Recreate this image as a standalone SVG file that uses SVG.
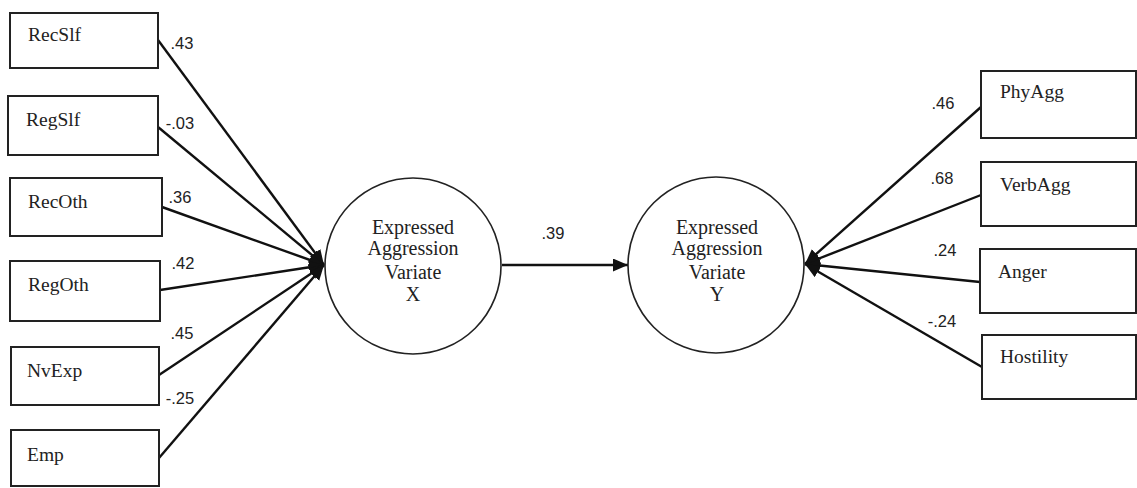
<svg xmlns="http://www.w3.org/2000/svg" width="1137" height="488" viewBox="0 0 1137 488">
<style>
.box{fill:#fff;stroke:#222;stroke-width:2}
.circ{fill:#fff;stroke:#222;stroke-width:1.6}
.lbl{font-family:"Liberation Serif","Times New Roman",serif;font-size:19.5px;fill:#222}
.ctr{font-family:"Liberation Serif","Times New Roman",serif;font-size:20px;fill:#222;text-anchor:middle}
.num{font-family:"Liberation Sans",Arial,sans-serif;font-size:16.5px;fill:#222;text-anchor:middle}
.edge{stroke:#111;stroke-width:2.4;fill:none;marker-end:url(#ah)}
</style>
<defs>
<marker id="ah" markerUnits="userSpaceOnUse" markerWidth="16" markerHeight="14" refX="15" refY="6.5" orient="auto">
<path d="M0,0 L15,6.5 L0,13 z" fill="#111"/>
</marker>
</defs>
<g id="connectors">
<line class="edge" x1="158" y1="40" x2="324" y2="265"/>
<line class="edge" x1="158" y1="127" x2="324" y2="265"/>
<line class="edge" x1="162" y1="207" x2="324" y2="265"/>
<line class="edge" x1="160" y1="290" x2="324" y2="265"/>
<line class="edge" x1="159" y1="375" x2="324" y2="265"/>
<line class="edge" x1="159" y1="458" x2="324" y2="265"/>
<line class="edge" x1="502" y1="265" x2="628" y2="265"/>
<line class="edge" x1="981" y1="107" x2="805" y2="264"/>
<line class="edge" x1="981" y1="195" x2="805" y2="264"/>
<line class="edge" x1="980" y1="282" x2="805" y2="264"/>
<line class="edge" x1="982" y1="367" x2="805" y2="264"/>
<text class="num" x="182" y="49">.43</text>
<text class="num" x="180" y="129">-.03</text>
<text class="num" x="180" y="203">.36</text>
<text class="num" x="183" y="269">.42</text>
<text class="num" x="182" y="339">.45</text>
<text class="num" x="180" y="404">-.25</text>
<text class="num" x="553" y="239">.39</text>
<text class="num" x="943" y="109">.46</text>
<text class="num" x="942" y="184">.68</text>
<text class="num" x="945" y="256">.24</text>
<text class="num" x="942" y="327">-.24</text>
</g>
<g id="RecSlf"><rect class="box" x="10" y="13" width="148" height="55"/><text class="lbl" x="28" y="41">RecSlf</text></g>
<g id="RegSlf"><rect class="box" x="8" y="96" width="150" height="59"/><text class="lbl" x="26" y="126">RegSlf</text></g>
<g id="RecOth"><rect class="box" x="10" y="178" width="152" height="58"/><text class="lbl" x="28" y="208">RecOth</text></g>
<g id="RegOth"><rect class="box" x="10" y="261" width="150" height="60"/><text class="lbl" x="28" y="291">RegOth</text></g>
<g id="NvExp"><rect class="box" x="11" y="347" width="148" height="58"/><text class="lbl" x="27" y="377">NvExp</text></g>
<g id="Emp"><rect class="box" x="11" y="430" width="148" height="56"/><text class="lbl" x="27" y="461">Emp</text></g>
<g id="VariateX"><circle class="circ" cx="413" cy="266" r="88"/>
<text class="ctr" x="413" y="234">Expressed</text>
<text class="ctr" x="413" y="255">Aggression</text>
<text class="ctr" x="413" y="279">Variate</text>
<text class="ctr" x="413" y="301">X</text></g>
<g id="VariateY"><circle class="circ" cx="716" cy="265" r="88"/>
<text class="ctr" x="717" y="234">Expressed</text>
<text class="ctr" x="717" y="255">Aggression</text>
<text class="ctr" x="717" y="279">Variate</text>
<text class="ctr" x="717" y="301">Y</text></g>
<g id="PhyAgg"><rect class="box" x="981" y="71" width="155" height="67"/><text class="lbl" x="1000" y="98">PhyAgg</text></g>
<g id="VerbAgg"><rect class="box" x="981" y="162" width="155" height="64"/><text class="lbl" x="1000" y="191">VerbAgg</text></g>
<g id="Anger"><rect class="box" x="980" y="249" width="156" height="64"/><text class="lbl" x="998" y="278">Anger</text></g>
<g id="Hostility"><rect class="box" x="982" y="335" width="154" height="64"/><text class="lbl" x="1000" y="363">Hostility</text></g>
</svg>
